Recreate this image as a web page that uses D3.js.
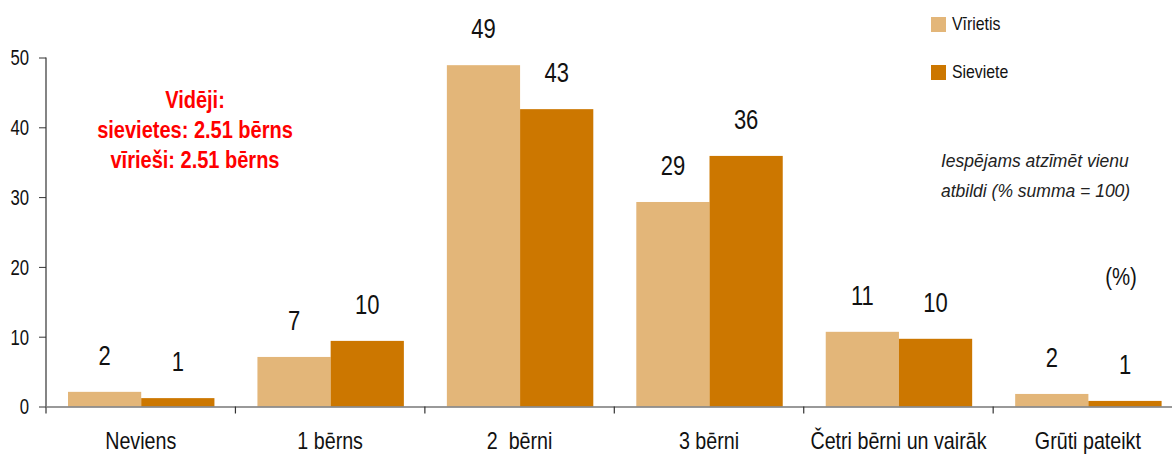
<!DOCTYPE html>
<html><head><meta charset="utf-8">
<script src="https://cdn.jsdelivr.net/npm/d3@7"></script>
<style>
html,body{margin:0;padding:0;background:#fff;}
svg{display:block;}
</style></head>
<body>
<svg id="chart" width="1172" height="454"></svg>
<script>
const categories = ["Neviens", "1 bērns", "2\u00A0 bērni", "3 bērni", "Četri bērni un vairāk", "Grūti pateikt"];
const seriesNames = ["Vīrietis", "Sieviete"];
const maleValues = [2.1, 7.1, 48.9, 29.3, 10.7, 1.8];
const femaleValues = [1.2, 9.4, 42.6, 35.9, 9.7, 0.8];
const maleLabels = ["2", "7", "49", "29", "11", "2"];
const femaleLabels = ["1", "10", "43", "36", "10", "1"];
const yTicks = [0, 10, 20, 30, 40, 50];
const colors = ["#E3B679", "#CC7700"];
const noteLines = ["Iespējams atzīmēt vienu", "atbildi (% summa = 100)"];
const avgLines = ["Vidēji:", "sievietes: 2.51 bērns", "vīrieši: 2.51 bērns"];

const FONT = "'Liberation Sans',Arial,sans-serif";
const svg = d3.select("#chart");
const x0 = d3.scaleBand().domain(categories).range([46, 1182.6]).paddingInner(0).paddingOuter(0);
const x1 = d3.scaleBand().domain(seriesNames).range([22, x0.bandwidth() - 21]);
const y = d3.scaleLinear().domain([0, 50]).range([406.5, 57.5]);

const rows = categories.map((c, i) => ({
  cat: c,
  vals: [
    {s: seriesNames[0], v: maleValues[i], l: maleLabels[i], c: colors[0]},
    {s: seriesNames[1], v: femaleValues[i], l: femaleLabels[i], c: colors[1]}
  ]
}));

const g = svg.selectAll("g.cat").data(rows).join("g").attr("class", "cat")
  .attr("transform", d => `translate(${x0(d.cat)},0)`);
g.selectAll("rect").data(d => d.vals).join("rect")
  .attr("x", d => x1(d.s)).attr("width", x1.bandwidth())
  .attr("y", d => y(d.v)).attr("height", d => y(0) - y(d.v))
  .attr("fill", d => d.c);
g.selectAll("text.val").data(d => d.vals).join("text").attr("class", "val")
  .attr("transform", d => `translate(${x1(d.s) + x1.bandwidth() / 2},${y(d.v) - 27}) scale(0.8,1)`)
  .attr("text-anchor", "middle")
  .style("font-family", FONT).style("font-size", "27.5px").attr("fill", "#111")
  .text(d => d.l);

// y axis
const yAxis = svg.append("g").attr("transform", "translate(46,0)")
  .call(d3.axisLeft(y).tickValues(yTicks).tickSize(7).tickPadding(17).tickFormat(d3.format("d")));
yAxis.select(".domain").attr("stroke", "#333").attr("stroke-width", 1.2).attr("d", `M0,${y(50)}V${y(0)}`);
yAxis.selectAll(".tick line").attr("stroke", "#333");
yAxis.selectAll(".tick text").style("font-family", FONT).style("font-size", "22px").attr("fill", "#111")
  .attr("x", -17 / 0.76).attr("transform", "scale(0.76,1)").attr("dy", "0.34em");

// x axis
const xAxis = svg.append("g").attr("transform", `translate(0,${y(0)})`)
  .call(d3.axisBottom(x0).tickSize(0).tickPadding(42.5));
xAxis.select(".domain").attr("stroke", "#777").attr("stroke-width", 1.5);
xAxis.selectAll(".tick text").style("font-family", FONT).style("font-size", "23px").attr("fill", "#111")
  .attr("dy", "0").attr("transform", "scale(0.856,1)");
const boundaries = categories.map(c => x0(c));
xAxis.selectAll("line.sep").data(boundaries).join("line").attr("class", "sep")
  .attr("x1", d => d).attr("x2", d => d).attr("y1", 0).attr("y2", 7)
  .attr("stroke", "#333").attr("stroke-width", 1.2);

// legend
const leg = svg.append("g");
seriesNames.forEach((s, i) => {
  leg.append("rect").attr("x", 931).attr("y", 17 + i * 48).attr("width", 15).attr("height", 15).attr("fill", colors[i]);
  leg.append("text").attr("transform", `translate(952,${29.5 + i * 48}) scale(0.88,1)`)
    .style("font-family", FONT).style("font-size", "18px").attr("fill", "#111").text(s);
});

// note
svg.append("g").selectAll("text").data(noteLines).join("text")
  .attr("x", 941).attr("y", (d, i) => 166.5 + i * 30)
  .style("font-family", FONT).style("font-style", "italic").style("font-size", "17.5px")
  .attr("fill", "#222").text(d => d);

svg.append("text").attr("transform", "translate(1121,285) scale(0.85,1)").attr("text-anchor", "middle")
  .style("font-family", FONT).style("font-size", "24px").attr("fill", "#111").text("(%)");

// average annotation
svg.append("g").selectAll("text").data(avgLines).join("text")
  .attr("transform", (d, i) => `translate(195,${108 + i * 30}) scale(0.87,1)`)
  .attr("text-anchor", "middle")
  .style("font-family", FONT).style("font-weight", "bold").style("font-size", "23px")
  .attr("fill", "#FF0000").text(d => d);
</script>
</body></html>
